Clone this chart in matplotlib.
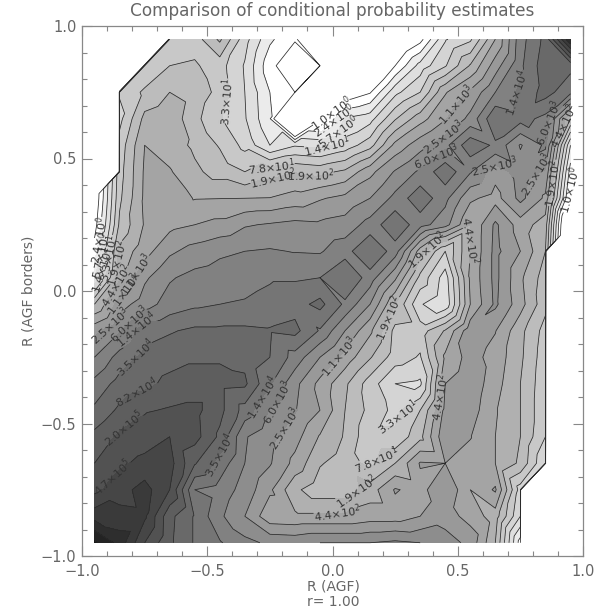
import numpy as np
import matplotlib
matplotlib.use("Agg")
import matplotlib.pyplot as plt
import matplotlib.tri as mtri
from matplotlib.ticker import MultipleLocator, FuncFormatter

E = -300.0  # empty bins (zero counts)
# contour-step units (one step = factor of about 2.4 in counts); rows run from y=0.95 down to y=-0.95
r19 = [E,E,-100,4,4.5,6.2,3.4,1.2,0.1,-1,-3,-3,-2,-0.4,2.9,3.8,7.0,10.6,12.3,18]
r18 = [E,-100,4,5,5.15,4.4,2.9,0.3,-0.9,0,-0.9,-3,0,2.4,3.9,6.1,8.5,10.8,12.6,12.3]
r17 = [E,4.1,5.2,6,5.6,4.7,3,1,0,-0.9,-0.9,-0.1,2.7,4,6.9,8.2,10,11.2,12.4,11.3]
r16 = [E,3.7,6.3,6.7,5.3,4.1,3.1,1.1,-6,-0.6,2.1,2.6,4.9,6.6,7.9,9.3,11.9,11.4,10.7,6]
r15 = [E,4.4,7,6.5,5.8,4.9,3.7,2,2.9,2.7,3.4,4.6,7.3,8.6,9.7,11.7,10.8,8.9,10.2,2]
r14 = [E,4.6,7.15,7.1,6.2,5.6,5,5.6,5.95,5.7,6.2,7.7,9.1,10.2,11.7,10.1,8.4,9.5,8.9,0.5]
r13 = [-1,4.8,7.2,7.5,6.95,6.98,7,7.03,7.4,7.9,8.3,9,10.3,11.7,10.3,8.2,7.6,9.3,7.8,-0.5]
r12 = [-0.5,5.2,7.1,7.7,8,8.3,8.9,9.1,9.3,9.2,9.4,10.4,11.8,10.4,9.4,7,9.2,7.5,6.5,-4]
r11 = [0.5,6.3,7.6,8.8,9.4,9.8,10,10.1,9.95,9.9,10.6,12,10.5,6.5,4,7,9.3,8,6,E]
r10 = [2,6.8,8.8,9.9,10.3,10.5,10.6,10.9,10.9,11,11.95,10.55,8.2,4.7,2.5,7.2,9.3,7.2,5.5,E]
r09 = [6,8.5,9.6,10.4,10.8,11,11.1,11.3,11.6,12.3,10.8,9,6,3.1,2.2,7,9.2,7.4,5.3,E]
r08 = [8.7,9.9,11.6,11.9,12.2,12.2,12.2,12.1,12.3,10.9,9,7.2,4.7,4.5,6.1,8.7,8.05,6.3,4.6,E]
r07 = [10,11.4,12.3,12.6,12.9,12.9,12.7,12,10.6,9,7.6,6.1,4.5,3.9,7.2,8.4,7.6,6.2,4.4,E]
r06 = [11.3,12.4,12.7,13.3,13.3,13.3,13.2,11.1,9.3,7.7,6.2,4.5,3,2.8,8,8.7,7.4,6,4.3,E]
r05 = [12.2,13.2,13.9,14.1,14.3,13.3,11.6,9.9,9.1,8,6,4.7,3.7,5,8.3,8.5,7.1,6,4.2,E]
r04 = [13.3,14.2,14.5,15,14.4,12.8,10.1,9.3,8.4,6.9,5.9,4.2,4.2,5.7,8.8,8.05,7,6,4,E]
r03 = [14,14.8,15.3,15.4,13.1,11.6,10,9.1,7.7,6.1,5.5,4.7,6,8.1,8,7.6,7,5.8,3,E]
r02 = [14.7,15.6,16.4,15,11,10.6,9.6,8.2,6.2,5.4,5.4,6.5,8.1,7.6,9,7,8.15,3.5,E,E]
r01 = [16.6,16.3,16.2,13.3,11.9,10.2,9,7.3,7.2,7.2,7.2,7.5,7.5,8,8.5,7.6,6.5,3,E,E]
r00 = [19.2,17.6,15,13.2,11.9,11.1,10.3,9.8,9.7,10,10,10,10.2,10,9.5,8.7,6,0.5,E,E]

x_centres = [-0.95,-0.85,-0.75,-0.65,-0.55,-0.45,-0.35,-0.25,-0.15,-0.05,0.05,0.15,0.25,0.35,0.45,0.55,0.65,0.75,0.85,0.95]
y_centres = list(x_centres)
level_steps = list(range(0, 20))
level_names = {0:"1.0",1:"2.4",2:"5.7",3:"1.4",4:"3.3",5:"7.8",6:"1.9",7:"4.4",8:"1.1",9:"2.5",10:"6.0",11:"1.4",12:"3.5",
               13:"8.2",14:"2.0",15:"4.7",16:"1.1",17:"2.6",18:"6.2",19:"1.5"}
level_powers = {0:0,1:0,2:0,3:1,4:1,5:1,6:2,7:2,8:3,9:3,10:3,11:4,12:4,13:4,14:5,15:5,16:6,17:6,18:6,19:7}

Z = np.array([r00,r01,r02,r03,r04,r05,r06,r07,r08,r09,r10,r11,r12,r13,r14,r15,r16,r17,r18,r19])

# where the labels sit on the picture (pixel x, pixel y)
label_spots = [(328,110),(332,120),(335,130),(327,145),(232,103),(273,172),(273,178),(310,180),
 (457,105),(443,137),(436,156),(508,90),(547,123),(493,165),(220,455),(267,400),(277,402),
 (287,430),(338,355),(393,320),(427,250),(473,240),(442,397),(397,417),(375,460),(357,492),(337,516),
 (107,258),(117,263),(118,287),(133,273),(127,297),(112,330),(128,323),(137,330),(135,357),
 (135,387),(125,430),(113,477),(97,240),(100,255),(103,270),
 (570,190),(553,183),(538,178),(565,127)]

# union-jack triangulation of the grid; a far lower corner is cut off on its own so that edges run diagonally
X, Y = np.meshgrid(x_centres, y_centres)
ny, nx = Z.shape
tris = []
for j in range(ny-1):
    for i in range(nx-1):
        a, b, c, d = (j*nx+i, j*nx+i+1, (j+1)*nx+i+1, (j+1)*nx+i)  # sw, se, ne, nw
        v = [Z[j,i], Z[j,i+1], Z[j+1,i+1], Z[j+1,i]]
        low = int(np.argmin(v))
        rest = sorted(v)[1]
        if v[low] < rest - 4:
            cut_nw_se = low in (0, 2)
        else:
            cut_nw_se = (i - j) % 2 == 0
        if cut_nw_se:
            tris += [[a, b, d], [b, c, d]]
        else:
            tris += [[a, b, c], [a, c, d]]
tri = mtri.Triangulation(X.ravel(), Y.ravel(), np.array(tris))

plt.rcParams['mathtext.default'] = 'regular'
fig = plt.figure(figsize=(6.08, 6.08), dpi=100)
ax = fig.add_axes([82/608, 1-556/608, (583-82)/608, (556-26)/608])
ink = '#666666'
levels = np.array(level_steps, float)
fill_levels = np.concatenate([[-400.0], levels, [40.0]])
grays = []
for lo in fill_levels[:-1]:
    g = 255 if lo < 1 else 247 - 11.8 * lo
    g = max(g, 0)
    grays.append((g/255, g/255, g/255))
ax.tricontourf(tri, Z.ravel(), levels=fill_levels, colors=grays)
cs = ax.tricontour(tri, Z.ravel(), levels=levels, colors='#2a2a2a', linewidths=0.55, linestyles='solid')

def px2data(px, py):
    return ((px-82)/250.5-1, (556-py)/265-1)

ax.clabel(cs, manual=[px2data(px, py) for px, py in label_spots], inline=True, inline_spacing=1,
          fmt={float(k): '$%s{\\times}10^{%d}$' % (level_names[k], level_powers[k]) for k in level_names},
          fontsize=8, colors='#333333')

ax.set_xlim(-1, 1); ax.set_ylim(-1, 1)
for s in ax.spines.values():
    s.set_color('#888888'); s.set_linewidth(0.9)
ax.xaxis.set_major_locator(MultipleLocator(0.5)); ax.yaxis.set_major_locator(MultipleLocator(0.5))
ax.xaxis.set_minor_locator(MultipleLocator(0.1)); ax.yaxis.set_minor_locator(MultipleLocator(0.1))
ax.tick_params(which='major', direction='in', length=7.5, width=0.8, color='#888888', top=True, right=True,
               labelcolor=ink, labelsize=10.5)
ax.tick_params(which='minor', direction='in', length=3.8, width=0.8, color='#888888', top=True, right=True)
ax.tick_params(axis='x', which='major', pad=6)
ax.tick_params(axis='y', which='major', pad=4)
fm = FuncFormatter(lambda v, p: ('%.1f' % v).replace('-', '\u2212'))
ax.xaxis.set_major_formatter(fm); ax.yaxis.set_major_formatter(fm)
ax.set_title('Comparison of conditional probability estimates', fontsize=12.2, color=ink, pad=7)
ax.set_ylabel('R (AGF borders)', fontsize=10, color=ink, labelpad=4)
fig.text(333/608, 1-586/608, 'R (AGF)', ha='center', va='center', fontsize=10, color=ink)
fig.text(333/608, 1-602/608, 'r= 1.00', ha='center', va='center', fontsize=10, color=ink)
fig.savefig('out.png', dpi=100)
